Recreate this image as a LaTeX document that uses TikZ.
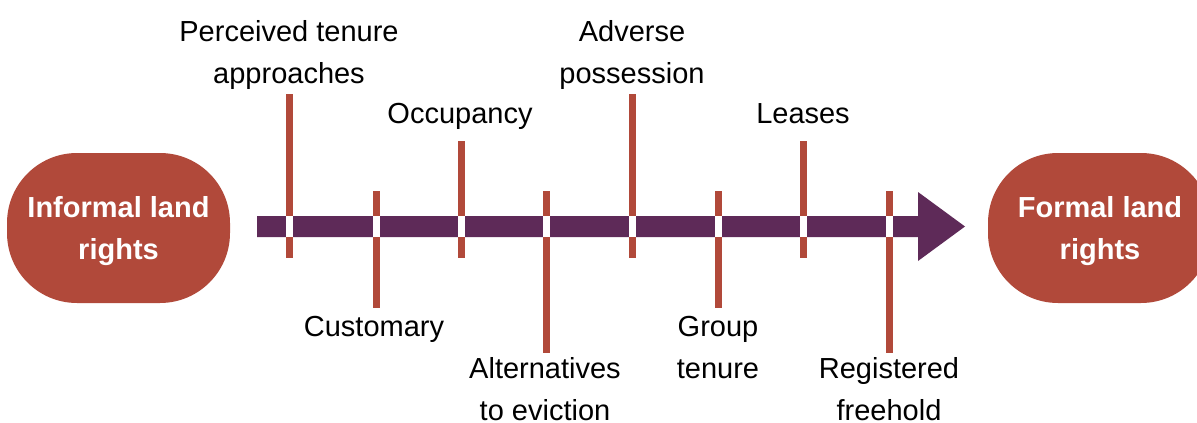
\documentclass[tikz,border=0pt]{standalone}
\usepackage{fontspec}
\setmainfont{Liberation Sans}
\definecolor{brick}{HTML}{B1493A}
\definecolor{plum}{HTML}{5E2A58}
\tikzset{
  pill/.style={fill=brick, draw=none, rounded corners=70pt, minimum width=223pt, minimum height=150pt, inner sep=0pt},
  pilltext/.style={text=white, font=\fontsize{29}{42}\selectfont\bfseries, align=center, anchor=base, inner sep=0pt},
  lbl/.style={text=black, font=\fontsize{29}{42}\selectfont, align=center, anchor=base, inner sep=0pt},
  tickline/.style={draw=brick, line width=7pt},
  gapbox/.style={fill=white, draw=none},
  shaft/.style={fill=plum, draw=none},
}
\begin{document}
\begin{tikzpicture}[x=1pt,y=-1pt]
\useasboundingbox (0,0) rectangle (1197,423);
% pills
\node[pill] (inf) at (118.5,228) {};
\node[pill] (for) at (1099.5,228) {};
\node[pilltext] (inft) at (118.5,259) {Informal land\\rights};
\node[pilltext] (fort) at (1100,259) {Formal land\\rights};
% arrow
\coordinate (as) at (257,226.5);
\coordinate (at) at (965,226.5);
\fill[shaft] ([yshift=10.5pt]as) -- ([xshift=-47pt,yshift=10.5pt]at) -- ([xshift=-47pt,yshift=34.5pt]at) -- (at) -- ([xshift=-47pt,yshift=-34.5pt]at) -- ([xshift=-47pt,yshift=-10.5pt]at) -- ([yshift=-10.5pt]as) -- cycle;
% ticks
\foreach \n/\x/\t/\b in {t1/289/94/258, t2/376/191/308, t3/461/141/258, t4/546/191/353, t5/632/94/258, t6/718/191/308, t7/803/141/258, t8/889/191/353} {
  \coordinate (\n top) at (\x,\t);
  \coordinate (\n bot) at (\x,\b);
  \draw[tickline] (\n top) -- (\n bot);
  \fill[gapbox] (\x-3.5,216) rectangle (\x+3.5,237);
}
% labels (base = baseline of last line)
\node[lbl] (l1) at (289,83) {Perceived tenure\\approaches};
\node[lbl] (l3) at (460,123) {Occupancy};
\node[lbl] (l5) at (632,83) {Adverse\\possession};
\node[lbl] (l7) at (803,123) {Leases};
\node[lbl] (l2) at (374,336) {Customary};
\node[lbl] (l4) at (545,420) {Alternatives\\to eviction};
\node[lbl] (l6) at (718,378) {Group\\tenure};
\node[lbl] (l8) at (889,420) {Registered\\freehold};
\end{tikzpicture}
\end{document}
